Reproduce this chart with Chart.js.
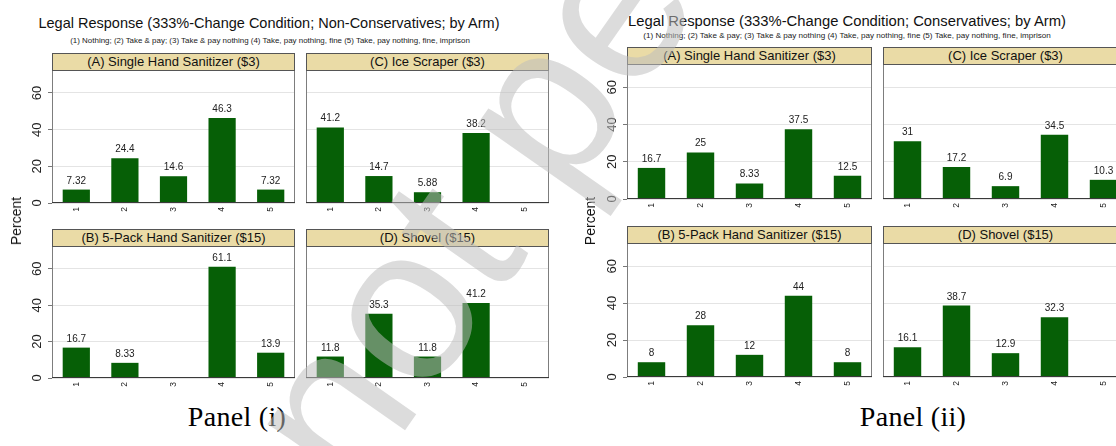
<!DOCTYPE html>
<html>
<head>
<meta charset="utf-8">
<title>Legal Response by Arm</title>
<script src="https://cdn.jsdelivr.net/npm/chart.js@4.4.1/dist/chart.umd.min.js"></script>
<style>
  html, body { margin: 0; padding: 0; background: #fff; }
  body { width: 1116px; height: 446px; position: relative; overflow: hidden;
         font-family: "Liberation Sans", Arial, sans-serif; }
  canvas { position: absolute; }
  .title { position: absolute; white-space: nowrap; color: #111; line-height: 1;
           transform: translate(-50%, -50%); }
  .hdr { position: absolute; box-sizing: border-box; background: #eadba6; border: 1px solid #555;
         text-align: center; font-size: 13px; line-height: 16px; color: #111; white-space: nowrap; overflow: hidden; }
  .ylab { position: absolute; font-size: 14px; color: #111; line-height: 1; white-space: nowrap;
          transform: translate(-50%, -50%) rotate(-90deg); }
  .panel { position: absolute; font-family: "Liberation Serif", "DejaVu Serif", serif; font-size: 28px;
           letter-spacing: 0.3px; line-height: 1; white-space: nowrap; color: #000; transform: translate(-50%, -50%); }
  #wm { position: absolute; left: 202px; top: 396px; font-size: 220px; line-height: 1; white-space: nowrap;
        color: rgba(189, 189, 189, 0.53); transform: rotate(-55deg); transform-origin: 0 0; pointer-events: none; }
</style>
</head>
<body>
<script>
// Response categories (x axis) and y axis ticks
const categories = ['1', '2', '3', '4', '5'];
const yTicks = [0, 20, 40, 60];
const yMax = 72;

// Panel (i): non-conservatives, percent choosing each response
const nonConsSingleSanitizer = [7.32, 24.4, 14.6, 46.3, 7.32];
const nonConsIceScraper      = [41.2, 14.7, 5.88, 38.2, null];
const nonConsFivePack        = [16.7, 8.33, null, 61.1, 13.9];
const nonConsShovel          = [11.8, 35.3, 11.8, 41.2, null];

// Panel (ii): conservatives, percent choosing each response
const consSingleSanitizer = [16.7, 25, 8.33, 37.5, 12.5];
const consIceScraper      = [31, 17.2, 6.9, 34.5, 10.3];
const consFivePack        = [8, 28, 12, 44, 8];
const consShovel          = [16.1, 38.7, 12.9, 32.3, null];

// Text
const armTitles = ['(A) Single Hand Sanitizer ($3)', '(C) Ice Scraper ($3)',
                   '(B) 5-Pack Hand Sanitizer ($15)', '(D) Shovel ($15)'];
const panelTitles = ['Legal Response (333%-Change Condition; Non-Conservatives; by Arm)',
                     'Legal Response (333%-Change Condition; Conservatives; by Arm)'];
const responseKey = '(1) Nothing; (2) Take & pay; (3) Take & pay nothing (4) Take, pay nothing, fine (5) Take, pay nothing, fine, imprison';
const panelNames = ['Panel (i)', 'Panel (ii)'];
const yAxisTitle = 'Percent';

const FONT = '"Liberation Sans", Arial, sans-serif';
const BAR = '#065f06';
const AXW = 34;   // width reserved for the y tick labels
const XAH = 20;   // height reserved for the x tick labels

const fmt = v => String(Number(v.toPrecision(3)));

function addText(cls, text, x, y, extra) {
  const d = document.createElement('div');
  d.className = cls;
  d.textContent = text;
  d.style.left = x + 'px';
  d.style.top = y + 'px';
  if (extra) Object.assign(d.style, extra);
  document.body.appendChild(d);
  return d;
}

// scale a line of text so it spans the given width
function fitWidth(el, target, weight) {
  const c = document.createElement('canvas').getContext('2d');
  c.font = (weight || '') + ' 100px ' + FONT;
  const w = c.measureText(el.textContent).width;
  el.style.fontSize = (100 * target / w).toFixed(2) + 'px';
}

const framePlugin = {
  id: 'frame',
  afterDraw(chart) {
    const { ctx, chartArea: a } = chart;
    ctx.save();
    ctx.lineWidth = 1;
    ctx.strokeStyle = '#7d7d7d';
    ctx.beginPath();
    ctx.moveTo(a.left + 0.5, a.top); ctx.lineTo(a.left + 0.5, a.bottom);
    ctx.moveTo(a.right - 0.5, a.top); ctx.lineTo(a.right - 0.5, a.bottom);
    ctx.stroke();
    ctx.strokeStyle = '#3a3a3a';
    ctx.beginPath();
    ctx.moveTo(a.left, a.bottom - 0.5); ctx.lineTo(a.right, a.bottom - 0.5);
    ctx.stroke();
    ctx.restore();
  }
};

const valueLabelPlugin = {
  id: 'valueLabels',
  afterDatasetsDraw(chart) {
    const { ctx } = chart;
    const meta = chart.getDatasetMeta(0);
    const data = chart.data.datasets[0].data;
    ctx.save();
    ctx.font = '10px ' + FONT;
    ctx.fillStyle = '#222';
    ctx.textAlign = 'center';
    ctx.textBaseline = 'alphabetic';
    meta.data.forEach((bar, i) => {
      const v = data[i];
      if (v === null || v === undefined) return;
      ctx.fillText(fmt(v), bar.x, bar.y - 6);
    });
    ctx.restore();
  }
};

function barChart(values, left, top, right, bottom, showY) {
  const axw = showY ? AXW : 0;
  const canvas = document.createElement('canvas');
  canvas.width = (right - left) + axw;
  canvas.height = (bottom - top) + XAH;
  canvas.style.left = (left - axw) + 'px';
  canvas.style.top = top + 'px';
  document.body.appendChild(canvas);
  return new Chart(canvas, {
    type: 'bar',
    data: {
      labels: categories,
      datasets: [{ data: values, backgroundColor: BAR, borderWidth: 0,
                   barPercentage: 0.56, categoryPercentage: 1 }]
    },
    options: {
      responsive: false, animation: false, devicePixelRatio: 1,
      layout: { padding: 0 },
      plugins: { legend: { display: false }, tooltip: { enabled: false }, title: { display: false } },
      scales: {
        x: {
          type: 'category', offset: true,
          grid: { display: false, drawTicks: false },
          border: { display: false },
          ticks: { minRotation: 90, maxRotation: 90, autoSkip: false, padding: 4,
                   color: '#222', font: { size: 8.5, family: FONT } },
          afterFit(s) { s.height = XAH; s.paddingLeft = 0; s.paddingRight = 0; }
        },
        y: {
          min: 0, max: yMax,
          afterBuildTicks(s) { s.ticks = yTicks.map(v => ({ value: v })); },
          grid: { color: '#e4e4e4', lineWidth: 1, drawTicks: showY, tickLength: 4, tickColor: '#777' },
          border: { display: false },
          ticks: { display: showY, minRotation: 90, maxRotation: 90, crossAlign: 'center', padding: 3,
                   color: '#222', font: { size: 13, family: FONT } },
          afterFit(s) { s.width = axw; s.paddingTop = 0; s.paddingBottom = 0; }
        }
      }
    },
    plugins: [framePlugin, valueLabelPlugin]
  });
}

function header(text, left, top, right, bottom) {
  const d = addText('hdr', text, left, top);
  d.style.width = (right - left) + 'px';
  d.style.height = (bottom - top) + 'px';
}

// ---- Panel (i): non-conservatives ----
fitWidth(addText('title', panelTitles[0], 269, 23), 462);
fitWidth(addText('title', responseKey, 270, 41, { color: '#222' }), 401);
header(armTitles[0], 52, 53, 295, 71);
header(armTitles[1], 306, 53, 549, 71);
header(armTitles[2], 52, 229, 295, 247);
header(armTitles[3], 306, 229, 549, 247);
barChart(nonConsSingleSanitizer, 52, 71, 295, 203, true);
barChart(nonConsIceScraper, 306, 71, 549, 203, false);
barChart(nonConsFivePack, 52, 247, 295, 378, true);
barChart(nonConsShovel, 306, 247, 549, 378, false);
addText('ylab', yAxisTitle, 16, 221);
addText('panel', panelNames[0], 237, 417);

// ---- Panel (ii): conservatives ----
fitWidth(addText('title', panelTitles[1], 847, 20.5), 439);
fitWidth(addText('title', responseKey, 847, 36, { color: '#222' }), 409);
header(armTitles[0], 627, 47, 872, 65);
header(armTitles[1], 883, 47, 1128, 65);
header(armTitles[2], 627, 226, 872, 244);
header(armTitles[3], 883, 226, 1128, 244);
barChart(consSingleSanitizer, 627, 65, 872, 199, true);
barChart(consIceScraper, 883, 65, 1128, 199, false);
barChart(consFivePack, 627, 244, 872, 377, true);
barChart(consShovel, 883, 244, 1128, 377, false);
addText('ylab', yAxisTitle, 590, 221);
addText('panel', panelNames[1], 913, 417);

// preprint stamp across the page
const wm = document.createElement('div');
wm.id = 'wm';
wm.textContent = 'not peer reviewed';
document.body.appendChild(wm);
</script>
</body>
</html>
